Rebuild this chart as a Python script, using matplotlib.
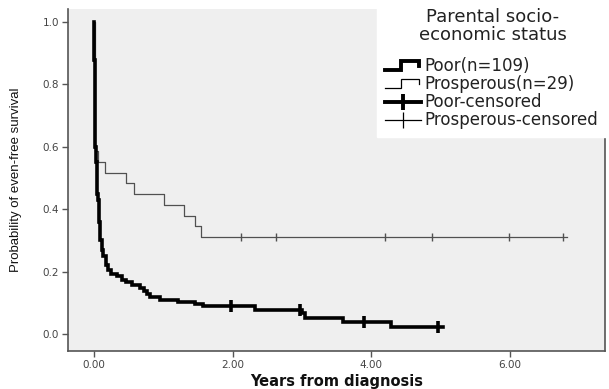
import matplotlib
matplotlib.use("Agg")
import matplotlib.pyplot as plt
from matplotlib.legend_handler import HandlerBase
from matplotlib.lines import Line2D

# ---------------- data ----------------
poor_times = [0.0, 0.005, 0.01, 0.02, 0.03, 0.04, 0.053, 0.07, 0.087, 0.11, 0.134,
              0.17, 0.20, 0.24, 0.33, 0.40, 0.46, 0.55, 0.66, 0.72, 0.77, 0.81,
              0.95, 1.21, 1.46, 1.57, 2.32, 3.00, 3.04, 3.59, 4.28]
poor_surv = [1.0, 0.88, 0.67, 0.60, 0.55, 0.45, 0.43, 0.36, 0.30, 0.27, 0.25,
             0.22, 0.205, 0.193, 0.184, 0.174, 0.165, 0.156, 0.147, 0.138, 0.128, 0.118,
             0.110, 0.101, 0.095, 0.089, 0.076, 0.066, 0.051, 0.038, 0.021]
poor_end = 5.04
poor_cens_t = [1.97, 2.97, 3.89, 4.96]
poor_cens_s = [0.089, 0.076, 0.038, 0.021]

prosp_times = [0.0, 0.02, 0.053, 0.16, 0.46, 0.57, 1.01, 1.30, 1.46, 1.54]
prosp_surv = [1.0, 0.586, 0.552, 0.517, 0.483, 0.448, 0.414, 0.379, 0.345, 0.310]
prosp_end = 6.82
prosp_cens_t = [2.12, 2.63, 4.20, 4.88, 5.98, 6.76]
prosp_cens_s = [0.310, 0.310, 0.310, 0.310, 0.310, 0.310]

labels = ["Poor(n=109)", "Prosperous(n=29)", "Poor-censored", "Prosperous-censored"]
legend_title = "Parental socio-\neconomic status"
xticks = [0, 2, 4, 6]
xticklabels = ["0.00", "2.00", "4.00", "6.00"]
yticks = [0.0, 0.2, 0.4, 0.6, 0.8, 1.0]
yticklabels = ["0.0", "0.2", "0.4", "0.6", "0.8", "1.0"]
xlabel = "Years from diagnosis"
ylabel = "Probability of even-free survival"

# ---------------- style ----------------
plt.rcParams["font.family"] = ["DejaVu Sans"]

THICK = "#000000"
THIN = "#505050"
BG = "#efefef"
SPINE = "#555555"

fig = plt.figure(figsize=(6.09, 3.89), dpi=100)
ax = fig.add_axes([68/609, 1-351/389, (605-68)/609, (351-9)/389])
ax.set_facecolor(BG)

ax.step(poor_times + [poor_end], poor_surv + [poor_surv[-1]], where="post",
        color=THICK, lw=2.6, solid_joinstyle="miter", zorder=3)
ax.step(prosp_times + [prosp_end], prosp_surv + [prosp_surv[-1]], where="post",
        color=THIN, lw=0.9, zorder=2)
ax.plot(poor_cens_t, poor_cens_s, ls="none", marker="|", ms=8, mew=2.6,
        color=THICK, zorder=4)
ax.plot(prosp_cens_t, prosp_cens_s, ls="none", marker="|", ms=6, mew=1.0,
        color=THIN, zorder=4)

ax.set_xlim(-0.375, 7.37)
ax.set_ylim(-0.055, 1.042)
ax.set_xticks(xticks)
ax.set_xticklabels(xticklabels)
ax.set_yticks(yticks)
ax.set_yticklabels(yticklabels)
ax.tick_params(axis="both", direction="out", length=4.5, width=1.0, color=SPINE,
               labelsize=7.5, labelcolor="#444444", pad=2)
for s in ["left", "bottom", "right"]:
    ax.spines[s].set_color(SPINE)
    ax.spines[s].set_linewidth(1.2)
ax.spines["top"].set_visible(False)

ax.set_xlabel(xlabel, fontsize=10.5, fontweight="bold", color="#111111")
ax.xaxis.set_label_coords(0.5, -0.066)
ax.set_ylabel(ylabel, fontsize=9.5, family=["Liberation Sans", "DejaVu Sans"],
              color="#111111")
ax.yaxis.set_label_coords(-0.086, 0.5)


class StepHandler(HandlerBase):
    def __init__(self, lw, color):
        super().__init__()
        self.lw = lw
        self.color = color

    def create_artists(self, legend, orig_handle, xdescent, ydescent, width,
                       height, fontsize, trans):
        x0, y0 = -xdescent, -ydescent
        xs = [x0, x0 + 0.45*width, x0 + 0.45*width, x0 + 0.95*width, x0 + 0.95*width]
        ys = [y0 + 0.15*height, y0 + 0.15*height, y0 + 0.85*height,
              y0 + 0.85*height, y0 + 0.5*height]
        ln = Line2D(xs, ys, lw=self.lw, color=self.color, solid_joinstyle="miter")
        ln.set_transform(trans)
        return [ln]


h_poor = Line2D([], [], color=THICK, lw=2.6)
h_prosp = Line2D([], [], color=THICK, lw=0.9)
h_pc = Line2D([], [], color=THICK, lw=2.8, marker="|", ms=11, mew=2.8)
h_prc = Line2D([], [], color=THICK, lw=0.9, marker="|", ms=11, mew=0.9)

leg = fig.legend([h_poor, h_prosp, h_pc, h_prc], labels, title=legend_title,
                 loc="upper left", bbox_to_anchor=(377/609, 0.658, 232/609, 0.342),
                 bbox_transform=fig.transFigure, mode="expand",
                 handler_map={h_poor: StepHandler(2.8, THICK), h_prosp: StepHandler(0.9, THICK)},
                 prop={"family": "DejaVu Sans", "size": 12},
                 title_fontproperties={"family": "DejaVu Sans", "size": 13},
                 frameon=True, fancybox=False,
                 borderpad=0.45, handlelength=2.2, handletextpad=0.2, labelspacing=0.0,
                 borderaxespad=0, numpoints=1)
leg.get_frame().set_facecolor("white")
leg.get_frame().set_edgecolor("white")
leg.get_frame().set_alpha(1.0)
leg._legend_title_box._text.set_multialignment("center")
leg._legend_title_box._text.set_linespacing(1.0)
leg._legend_box.sep = 10
for t in leg.get_texts():
    t.set_color("#222222")
leg.get_title().set_color("#222222")

fig.savefig("out.png", dpi=100)
